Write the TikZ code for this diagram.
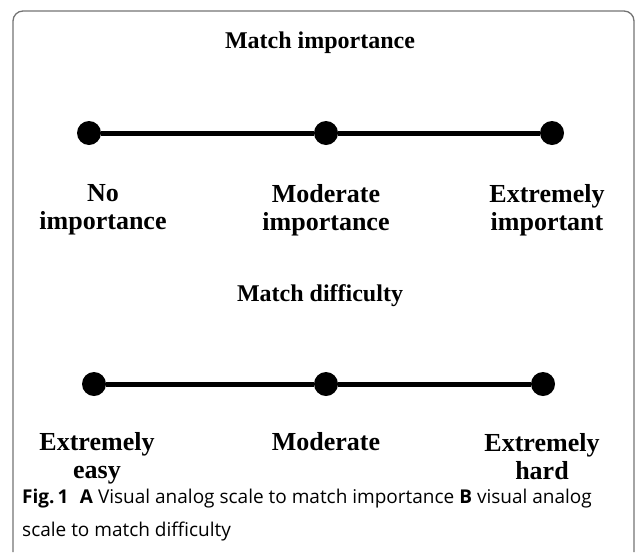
\documentclass[tikz,border=0pt]{standalone}
\usepackage{fontspec}
\setmainfont{Liberation Serif}
\newfontfamily\capfont{Open Sans}
\tikzset{
    dot/.style={circle, fill=black, inner sep=0pt, minimum size=24pt},
    scaleline/.style={line width=5pt},
    lab/.style={align=center, font=\bfseries\fontsize{26}{28}\selectfont},
    heading/.style={font=\bfseries\fontsize{24}{28}\selectfont},
}
\begin{document}
\begin{tikzpicture}[x=1pt, y=-1pt]
    \useasboundingbox (0,0) rectangle (636,552);
    % Frame
    \draw[black!55, line width=1.3pt, rounded corners=10pt]
        (13,552) -- (13,11) -- (634,11) -- (634,552);

    % Importance scale
    \node[heading] (titleA) at (320,43) {Match importance};
    \node[dot] (a1) at (89,133) {};
    \node[dot] (a2) at (326,133) {};
    \node[dot] (a3) at (552,133) {};
    \draw[scaleline] (a1) -- (a2) -- (a3);
    \node[lab] (la1) at (103,210) {No\\importance};
    \node[lab] (la2) at (326,210) {Moderate\\importance};
    \node[lab] (la3) at (547,210) {Extremely\\important};

    % Difficulty scale
    \node[heading] (titleB) at (320,296) {Match difficulty};
    \node[dot] (b1) at (94,384) {};
    \node[dot] (b2) at (326,384) {};
    \node[dot] (b3) at (543,384) {};
    \draw[scaleline] (b1) -- (b2) -- (b3);
    \node[lab] (lb1) at (97,458) {Extremely\\easy};
    \node[lab, anchor=base] (lb2) at (326,450) {Moderate};
    \node[lab] (lb3) at (542,456.5) {Extremely\\hard};

    % Caption
    \node[anchor=west, align=left, inner sep=0pt, font=\capfont\fontsize{19}{33}\selectfont]
        (cap) at (22,515) {\textbf{Fig.\,1}\hspace{0.6em}\textbf{A} Visual analog scale to match importance \textbf{B} visual analog\\scale to match difficulty};
\end{tikzpicture}
\end{document}
